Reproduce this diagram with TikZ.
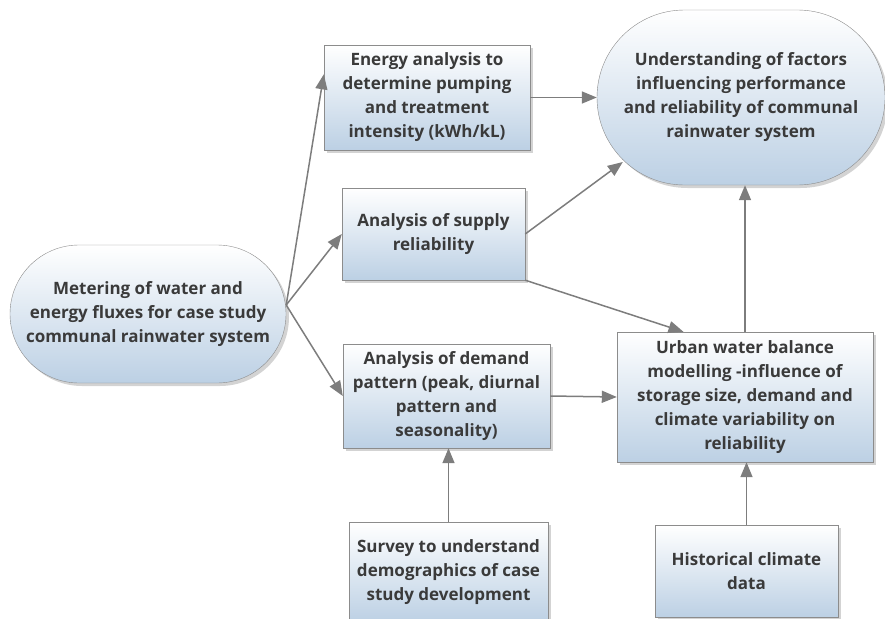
\documentclass[tikz,border=0pt]{standalone}
\usepackage{fontspec}
\setsansfont{Open Sans}
\usetikzlibrary{positioning,arrows.meta,calc,shadows}
\definecolor{boxblue}{RGB}{188,208,228}
\definecolor{boxline}{RGB}{140,140,140}
\definecolor{txtgray}{RGB}{58,58,58}
\definecolor{arrgray}{RGB}{125,125,125}

\begin{document}
\begin{tikzpicture}[x=1pt, y=-1pt,
  box/.style={draw=boxline, top color=white, bottom color=boxblue,
              align=center, text=txtgray, inner sep=2pt,
              font=\sffamily\bfseries\fontsize{17}{24}\selectfont,
              drop shadow={shadow xshift=3pt, shadow yshift=-3pt, opacity=0.35}},
  pill/.style={box, rounded corners=#1},
  arr/.style={-{Triangle[length=15pt, width=12pt]}, draw=arrgray, line width=1.5pt}]
\useasboundingbox (0,0) rectangle (885,618);
\clip (0,0) rectangle (885,618);
\node[pill=69pt, minimum width=276, minimum height=138] (meter) at (148,314)
  {Metering of water and\\energy fluxes for case study\\communal rainwater system};
\node[box, minimum width=206, minimum height=105] (energy) at (427,97.5)
  {Energy analysis to\\determine pumping\\and treatment\\intensity (kWh/kL)};
\node[pill=87.5pt, minimum width=288, minimum height=175] (underst) at (741,97.5)
  {Understanding of factors\\influencing performance\\and reliability of communal\\rainwater system};
\node[box, minimum width=183, minimum height=92] (supply) at (433.5,234)
  {Analysis of supply\\reliability};
\node[box, minimum width=207, minimum height=104] (demand) at (446.5,396)
  {Analysis of demand\\pattern (peak, diurnal\\pattern and\\seasonality)};
\node[box, minimum width=256, minimum height=130] (urban) at (745,397)
  {Urban water balance\\modelling -influence of\\storage size, demand and\\climate variability on\\reliability};
\node[box, below=74pt of demand, xshift=2pt, minimum width=199, minimum height=100] (survey)
  {Survey to understand\\demographics of case\\study development};
\node[box, below=63pt of urban, xshift=1.5pt, minimum width=183, minimum height=92] (hist)
  {Historical climate\\data};
\draw[arr] ([yshift=9pt]meter.east) -- ($(energy.north west)!0.28!(energy.south west)$);
\draw[arr] ([yshift=9pt]meter.east) -- (supply.west);
\draw[arr] ([yshift=9pt]meter.east) -- (demand.west);
\draw[arr] (energy.east) -- (underst.west);
\draw[arr] (supply.east) -- ($(underst.west)+(26,64.5)$);
\draw[arr] (supply.south east) -- ($(urban.north west)!0.26!(urban.north east)$);
\draw[arr] (demand.east) -- (urban.west);
\draw[arr] (urban.north) -- (urban.north |- underst.south);
\draw[arr] (survey.north) -- (survey.north |- demand.south);
\draw[arr] (hist.north) -- (hist.north |- urban.south);
\end{tikzpicture}
\end{document}
